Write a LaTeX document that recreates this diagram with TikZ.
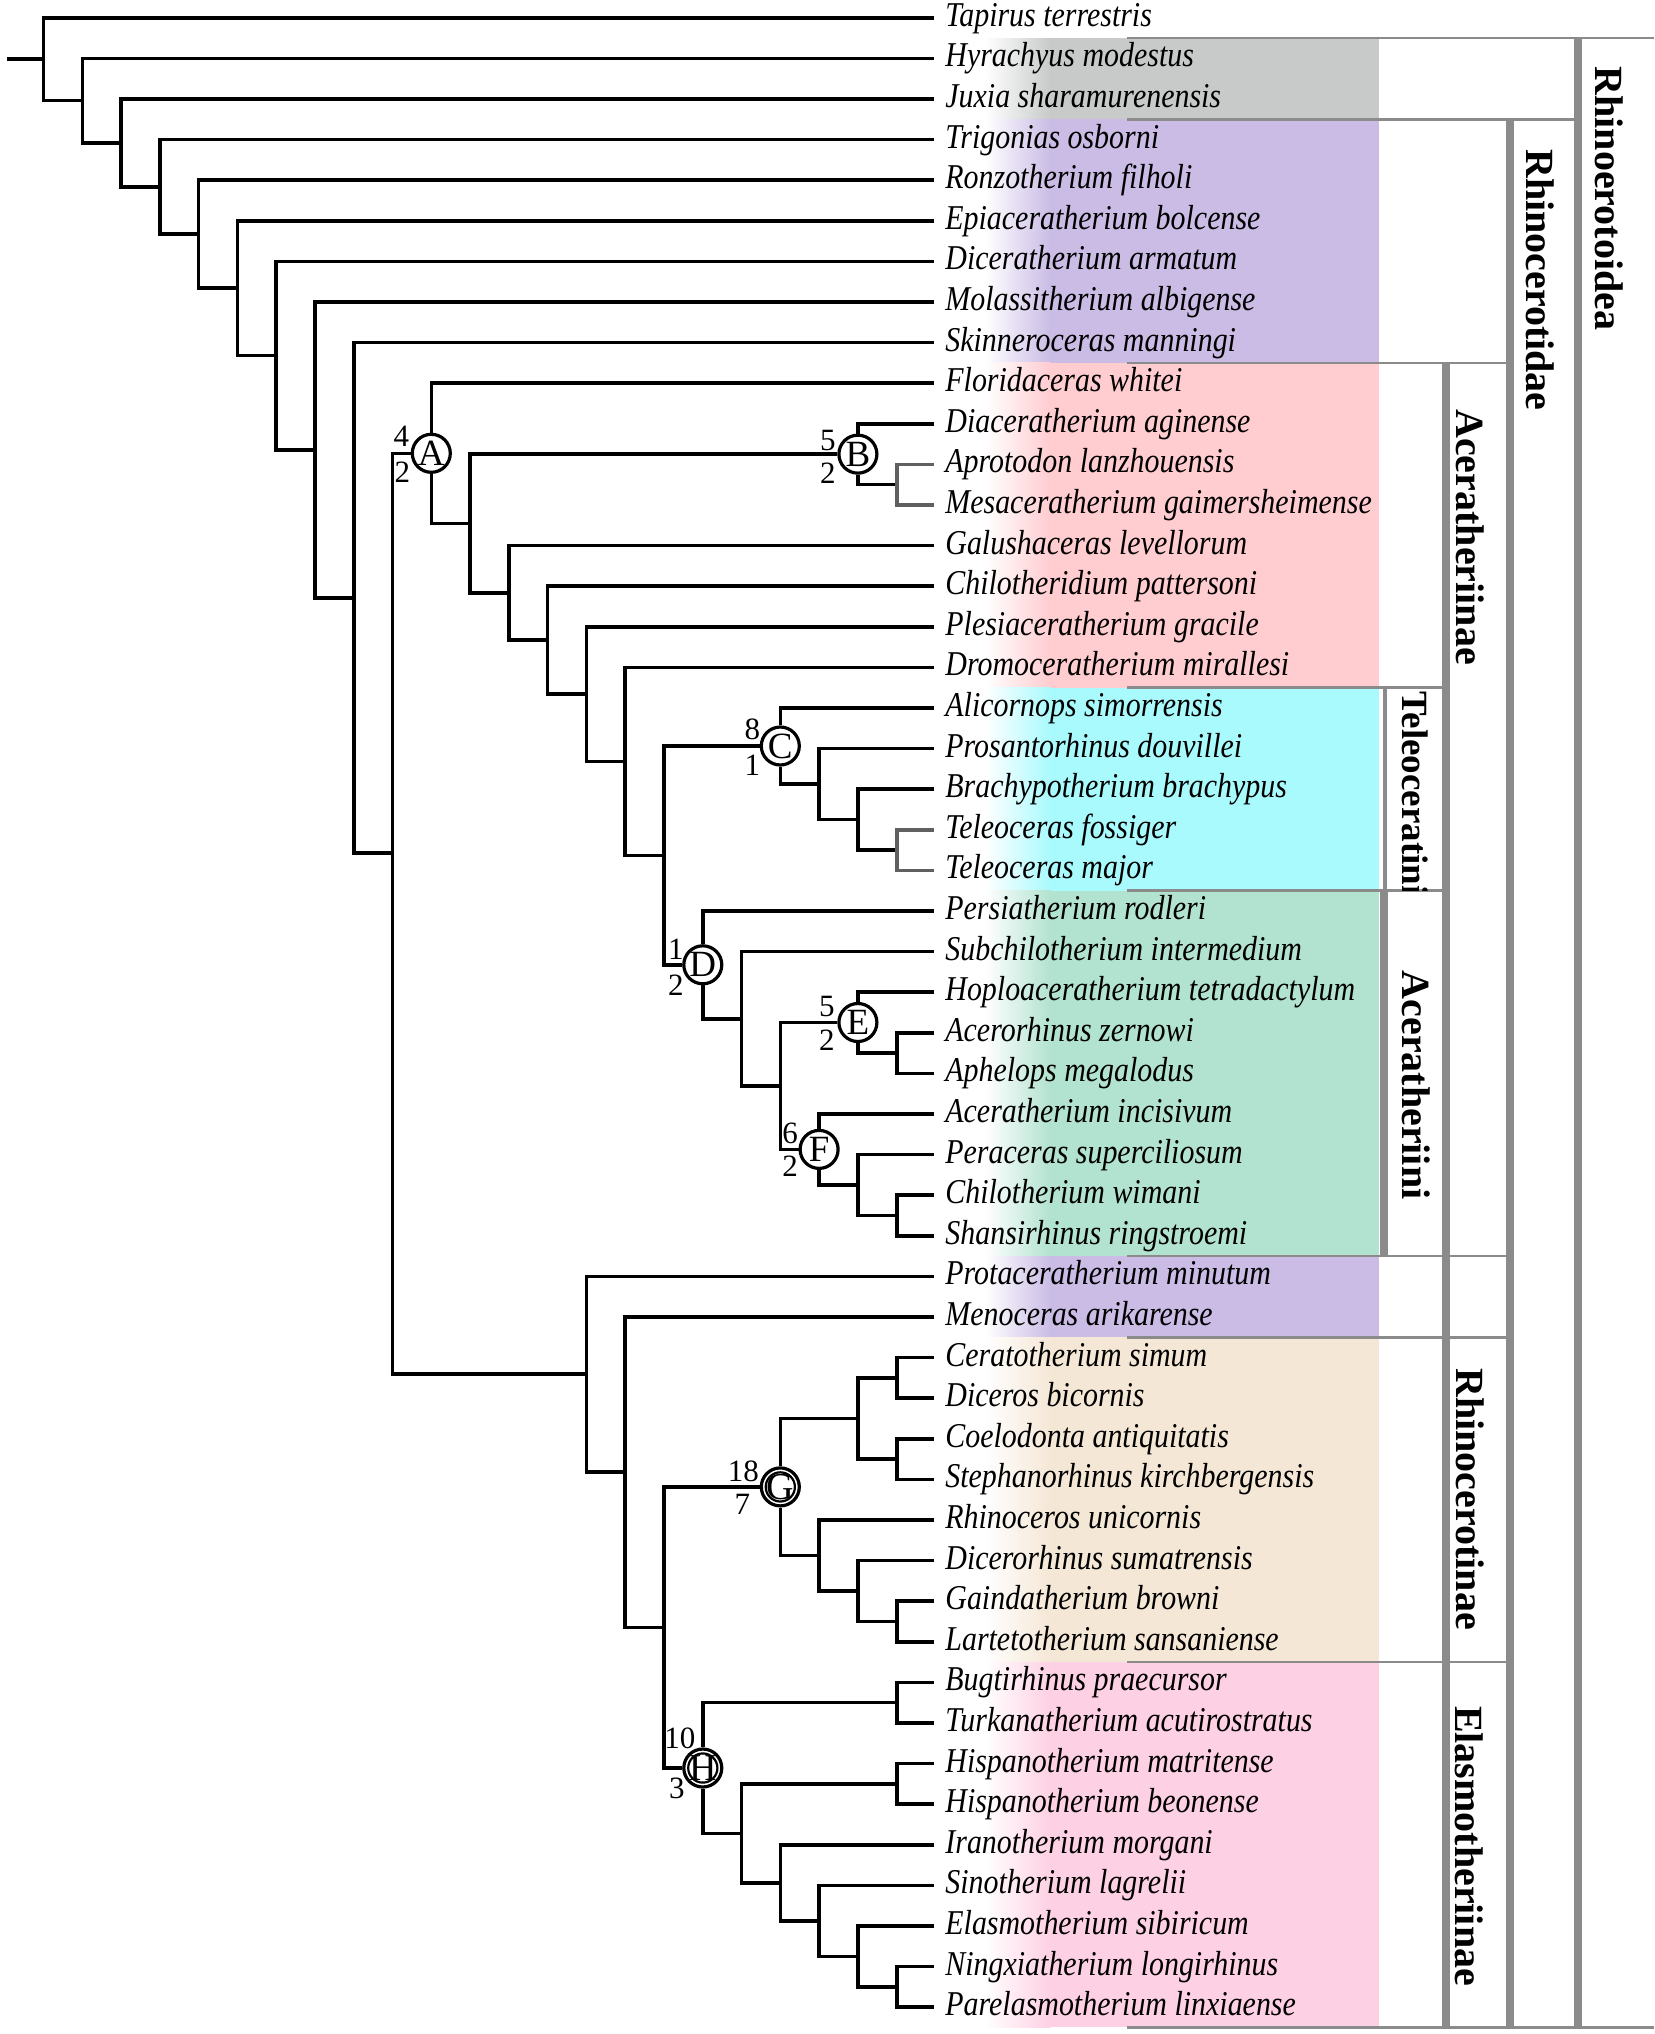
\documentclass[tikz,border=0pt]{standalone}
\usepackage{fontspec}
\setmainfont{Liberation Serif}
\newfontfamily\taxfam{Liberation Serif}[FakeStretch=0.86]
\definecolor{cgrey}{HTML}{C8CACA}
\definecolor{cpurple}{HTML}{CABCE5}
\definecolor{cpink}{HTML}{FFCCD0}
\definecolor{ccyan}{HTML}{A9FAFD}
\definecolor{cgreen}{HTML}{B2E2D0}
\definecolor{cbeige}{HTML}{F5E7D6}
\definecolor{cpinkb}{HTML}{FED0E3}
\definecolor{barg}{HTML}{8B8B8B}
\definecolor{leafg}{HTML}{606060}
\begin{document}
\begin{tikzpicture}[x=0.5pt,y=-0.5pt,
  br/.style={line width=1.8pt, line join=miter},
  grbr/.style={br, draw=leafg},
  taxon/.style={anchor=west, inner xsep=5.5pt, inner ysep=0pt, text height=11pt, text depth=2.5pt,
    font=\taxfam\itshape\fontsize{17.4pt}{17.4pt}\selectfont},
  clade/.style={circle, draw, line width=1.6pt, fill=white, minimum size=19pt, inner sep=0pt,
    font=\fontsize{18.5pt}{18.5pt}\selectfont},
  cladeii/.style={clade, font=\fontsize{19pt}{19pt}\selectfont,
    path picture={\draw[line width=1.1pt] (path picture bounding box.center) circle[radius=7.3pt];}},
  num/.style={inner sep=0pt, font=\fontsize{15.5pt}{15.5pt}\selectfont},
  grp/.style={rotate=-90, inner sep=0pt, font=\bfseries\fontsize{20pt}{20pt}\selectfont},
  gline/.style={draw=barg, line width=1.3pt},
  gbar/.style={draw=barg, line width=4pt},
  band/.style={left color=white, right color=#1},
]
\useasboundingbox (0,0) rectangle (1654,2034);

% ---- coloured bands ----
\foreach \c/\ya/\yb in {cgrey/38/119.2, cpurple/119.2/362.8, cpink/362.8/687.6, ccyan/687.6/890.6,
  cgreen/890.6/1256, cpurple/1256/1337.2, cbeige/1337.2/1662, cpinkb/1662/2027.4}{
  \fill[\c] (1050,\ya) rectangle (1379,\yb);
  \shade[band=\c] (985,\ya) rectangle (1050.5,\yb);
}

% ---- group lines and bars ----
\draw[gline] (1127,38) -- (1654,38);
\draw[gline] (1127,119.2) -- (1578,119.2);
\draw[gline] (1127,362.8) -- (1510,362.8);
\draw[gline] (1127,687.6) -- (1446,687.6);
\draw[gline] (1127,890.6) -- (1446,890.6);
\draw[gline] (1127,1256) -- (1510,1256);
\draw[gline] (1127,1337.2) -- (1510,1337.2);
\draw[gline] (1127,1662) -- (1510,1662);
\draw[gline] (1127,2027.4) -- (1654,2027.4);
\draw[gbar] (1578,38) -- (1578,2027.4);
\draw[gbar] (1510,119.2) -- (1510,2027.4);
\draw[gbar] (1446,362.8) -- (1446,2027.4);
\draw[draw=barg, line width=2.2pt] (1385,687.6) -- (1385,890.6);
\draw[gbar] (1384,890.6) -- (1384,1256);

% ---- group labels ----
\node[grp] (lRhinoerotoidea) at (1609,198.5) {Rhinoerotoidea};
\node[grp] (lRhinocerotidae) at (1540,280) {Rhinocerotidae};
\node[grp] (lAceratheriinae) at (1470,537) {Aceratheriinae};
\begin{scope}
  \clip (1389,689) rectangle (1442,890);
  \node[grp, anchor=west, font=\bfseries\fontsize{18.5pt}{18.5pt}\selectfont] (lTeleoceratini) at (1415,691) {Teleoceratini};
\end{scope}
\node[grp] (lAceratheriini) at (1416,1085) {Aceratheriini};
\node[grp] (lRhinocerotinae) at (1470,1499) {Rhinocerotinae};
\node[grp] (lElasmotheriinae) at (1469,1846) {Elasmotheriinae};

% ---- leaves ----
\foreach \n [count=\i from 0] in {Tapirus terrestris, Hyrachyus modestus, Juxia sharamurenensis,
  Trigonias osborni, Ronzotherium filholi, Epiaceratherium bolcense, Diceratherium armatum,
  Molassitherium albigense, Skinneroceras manningi, Floridaceras whitei, Diaceratherium aginense,
  Aprotodon lanzhouensis, Mesaceratherium gaimersheimense, Galushaceras levellorum,
  Chilotheridium pattersoni, Plesiaceratherium gracile, Dromoceratherium mirallesi,
  Alicornops simorrensis, Prosantorhinus douvillei, Brachypotherium brachypus, Teleoceras fossiger,
  Teleoceras major, Persiatherium rodleri, Subchilotherium intermedium,
  Hoploaceratherium tetradactylum, Acerorhinus zernowi, Aphelops megalodus, Aceratherium incisivum,
  Peraceras superciliosum, Chilotherium wimani, Shansirhinus ringstroemi, Protaceratherium minutum,
  Menoceras arikarense, Ceratotherium simum, Diceros bicornis, Coelodonta antiquitatis,
  Stephanorhinus kirchbergensis, Rhinoceros unicornis, Dicerorhinus sumatrensis,
  Gaindatherium browni, Lartetotherium sansaniense, Bugtirhinus praecursor,
  Turkanatherium acutirostratus, Hispanotherium matritense, Hispanotherium beonense,
  Iranotherium morgani, Sinotherium lagrelii, Elasmotherium sibiricum, Ningxiatherium longirhinus,
  Parelasmotherium linxiaense}{
  \node[taxon] (t\i) at (934,{17.7+40.6*\i}) {\n};
}

% ---- internal nodes ----
\coordinate (rs) at (6.9,59.1);
\coordinate (root) at (43.5,59.1);
\coordinate (n2) at (82.3,100.6);
\coordinate (n3) at (121.1,142.9);
\coordinate (n4) at (159.8,186.8);
\coordinate (n5) at (198.6,234.1);
\coordinate (n6) at (237.4,288.1);
\coordinate (n7) at (276.2,355.6);
\coordinate (n8) at (315.0,449.8);
\coordinate (n9) at (353.7,597.75);
\coordinate (n10) at (392.5,853);
\node[clade] (A) at (431.3,453.3) {A};
\coordinate (a1) at (470.1,523.5);
\node[clade] (B) at (857.9,454.15) {B};
\coordinate (bm) at (896.7,484.6);
\coordinate (a2) at (508.9,592.8);
\coordinate (a3) at (547.6,640);
\coordinate (a4) at (586.4,694);
\coordinate (a5) at (625.2,761.4);
\coordinate (cd) at (664.0,855.4);
\node[clade] (C) at (780.3,746) {C};
\coordinate (p1) at (819.1,784);
\coordinate (p2) at (857.9,819.5);
\coordinate (p3) at (896.7,850);
\node[clade] (D) at (702.8,964.8) {D};
\coordinate (d1) at (741.5,1018.7);
\coordinate (d2) at (780.3,1086);
\node[clade] (E) at (857.9,1022.5) {E};
\coordinate (e1) at (896.7,1053);
\node[clade] (F) at (819.1,1149.4) {F};
\coordinate (f1) at (857.9,1185);
\coordinate (f2) at (896.7,1215.4);
\coordinate (r1) at (586.4,1374.2);
\coordinate (r2) at (625.2,1472.2);
\coordinate (r3) at (664.0,1627.4);
\node[cladeii] (G) at (780.3,1486.9) {G};
\coordinate (g1) at (857.9,1418.4);
\coordinate (g1a) at (896.7,1377.8);
\coordinate (g1b) at (896.7,1459);
\coordinate (g2) at (819.1,1555.4);
\coordinate (g3) at (857.9,1591);
\coordinate (g4) at (896.7,1621.4);
\node[cladeii] (H) at (702.8,1768) {H};
\coordinate (ha) at (896.7,1702.6);
\coordinate (h1) at (741.5,1833.3);
\coordinate (hb) at (896.7,1783.8);
\coordinate (h2) at (780.3,1882.7);
\coordinate (h3) at (819.1,1920.8);
\coordinate (h4) at (857.9,1956.3);
\coordinate (h5) at (896.7,1986.8);

% ---- support numbers ----
\node[num] (A-u) at ([shift={(-30,-17)}]A.center) {4};
\node[num] (A-d) at ([shift={(-29,19)}]A.center) {2};
\node[num] (B-u) at ([shift={(-30,-14)}]B.center) {5};
\node[num] (B-d) at ([shift={(-30,19)}]B.center) {2};
\node[num] (C-u) at ([shift={(-28,-17)}]C.center) {8};
\node[num] (C-d) at ([shift={(-28,19)}]C.center) {1};
\node[num] (D-u) at ([shift={(-27,-16)}]D.center) {1};
\node[num] (D-d) at ([shift={(-27,20)}]D.center) {2};
\node[num] (E-u) at ([shift={(-31,-16)}]E.center) {5};
\node[num] (E-d) at ([shift={(-31,18)}]E.center) {2};
\node[num] (F-u) at ([shift={(-29,-16)}]F.center) {6};
\node[num] (F-d) at ([shift={(-29,17)}]F.center) {2};
\node[num] (G-u) at ([shift={(-37,-16)}]G.center) {18};
\node[num] (G-d) at ([shift={(-38,17)}]G.center) {7};
\node[num] (H-u) at ([shift={(-23,-30)}]H.center) {10};
\node[num] (H-d) at ([shift={(-26,20)}]H.center) {3};

% ---- branches ----
\begin{scope}[br]
\draw (rs) -- (root);
\draw (root) |- (t0);  \draw (root) |- (n2);
\draw (n2) |- (t1);    \draw (n2) |- (n3);
\draw (n3) |- (t2);    \draw (n3) |- (n4);
\draw (n4) |- (t3);    \draw (n4) |- (n5);
\draw (n5) |- (t4);    \draw (n5) |- (n6);
\draw (n6) |- (t5);    \draw (n6) |- (n7);
\draw (n7) |- (t6);    \draw (n7) |- (n8);
\draw (n8) |- (t7);    \draw (n8) |- (n9);
\draw (n9) |- (t8);    \draw (n9) |- (n10);
\draw (n10) |- (A);    \draw (n10) |- (r1);
\draw (A) |- (t9);     \draw (A) |- (a1);
\draw (a1) |- (B);     \draw (a1) |- (a2);
\draw (B) |- (t10);    \draw (B) |- (bm);
\draw[grbr] (bm) |- (t11); \draw[grbr] (bm) |- (t12);
\draw (a2) |- (t13);   \draw (a2) |- (a3);
\draw (a3) |- (t14);   \draw (a3) |- (a4);
\draw (a4) |- (t15);   \draw (a4) |- (a5);
\draw (a5) |- (t16);   \draw (a5) |- (cd);
\draw (cd) |- (C);     \draw (cd) |- (D);
\draw (C) |- (t17);    \draw (C) |- (p1);
\draw (p1) |- (t18);   \draw (p1) |- (p2);
\draw (p2) |- (t19);   \draw (p2) |- (p3);
\draw[grbr] (p3) |- (t20); \draw[grbr] (p3) |- (t21);
\draw (D) |- (t22);    \draw (D) |- (d1);
\draw (d1) |- (t23);   \draw (d1) |- (d2);
\draw (d2) |- (E);     \draw (d2) |- (F);
\draw (E) |- (t24);    \draw (E) |- (e1);
\draw (e1) |- (t25);   \draw (e1) |- (t26);
\draw (F) |- (t27);    \draw (F) |- (f1);
\draw (f1) |- (t28);   \draw (f1) |- (f2);
\draw (f2) |- (t29);   \draw (f2) |- (t30);
\draw (r1) |- (t31);   \draw (r1) |- (r2);
\draw (r2) |- (t32);   \draw (r2) |- (r3);
\draw (r3) |- (G);     \draw (r3) |- (H);
\draw (G) |- (g1);     \draw (G) |- (g2);
\draw (g1) |- (g1a);   \draw (g1) |- (g1b);
\draw (g1a) |- (t33);  \draw (g1a) |- (t34);
\draw (g1b) |- (t35);  \draw (g1b) |- (t36);
\draw (g2) |- (t37);   \draw (g2) |- (g3);
\draw (g3) |- (t38);   \draw (g3) |- (g4);
\draw (g4) |- (t39);   \draw (g4) |- (t40);
\draw (H) |- (ha);     \draw (H) |- (h1);
\draw (ha) |- (t41);   \draw (ha) |- (t42);
\draw (h1) |- (hb);    \draw (h1) |- (h2);
\draw (hb) |- (t43);   \draw (hb) |- (t44);
\draw (h2) |- (t45);   \draw (h2) |- (h3);
\draw (h3) |- (t46);   \draw (h3) |- (h4);
\draw (h4) |- (t47);   \draw (h4) |- (h5);
\draw (h5) |- (t48);   \draw (h5) |- (t49);
\end{scope}
\end{tikzpicture}
\end{document}
